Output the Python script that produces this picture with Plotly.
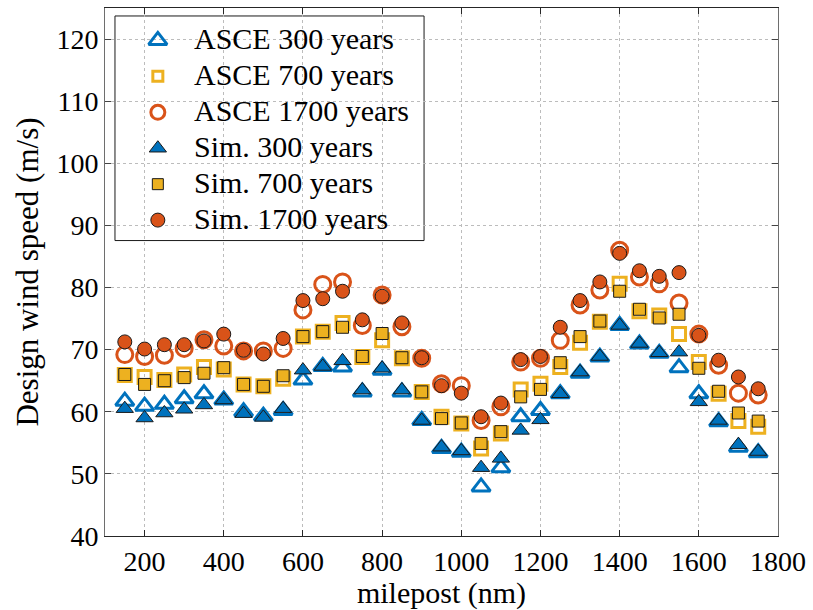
import plotly.graph_objects as go

# Milepost stations (nm)
milepost = [150, 200, 250, 300, 350, 400, 450, 500, 550, 600,
            650, 700, 750, 800, 850, 900, 950, 1000, 1050, 1100,
            1150, 1200, 1250, 1300, 1350, 1400, 1450, 1500, 1550, 1600,
            1650, 1700, 1750]

# ASCE design wind speeds (m/s)
asce_300 = [61.7, 60.9, 61.2, 62.1, 62.9, 61.9, 60.0, 59.3, 60.2, 65.1,
            67.3, 67.2, 63.2, 66.7, 63.2, 58.6, 54.1, 53.5, 47.9, 51.0,
            59.2, 60.2, 62.9, 66.2, 68.8, 73.9, 70.9, 69.4, 67.1, 62.9,
            58.4, 54.3, 53.4]
asce_700 = [65.9, 65.6, 65.1, 66.0, 67.2, 66.8, 64.4, 64.1, 65.3, 72.1,
            72.9, 74.3, 68.8, 71.5, 68.6, 63.2, 59.2, 58.1, 54.1, 56.5,
            63.6, 64.5, 67.2, 71.1, 74.5, 80.6, 76.2, 75.5, 72.5, 68.0,
            62.9, 58.5, 57.6]
asce_1700 = [69.2, 68.9, 69.1, 70.2, 71.6, 70.6, 69.8, 69.8, 70.2, 76.4,
             80.5, 80.9, 73.9, 78.8, 73.7, 68.6, 64.5, 64.2, 58.6, 60.8,
             68.0, 68.6, 71.5, 77.2, 79.6, 86.0, 81.7, 80.6, 77.5, 72.5,
             67.5, 63.0, 62.7]

# Simulated design wind speeds (m/s)
sim_300 = [60.5, 59.0, 59.8, 60.4, 61.1, 61.9, 59.7, 59.1, 60.5, 66.7,
           67.3, 68.2, 63.5, 67.0, 63.5, 58.6, 54.3, 53.7, 51.0, 52.5,
           57.0, 58.7, 62.9, 66.4, 68.9, 73.9, 71.0, 69.5, 69.6, 61.6,
           58.6, 54.7, 53.6]
sim_700 = [66.0, 64.4, 65.0, 65.5, 66.2, 67.1, 64.4, 64.1, 65.8, 72.1,
           72.9, 73.6, 68.9, 72.6, 68.7, 63.2, 58.9, 58.2, 54.9, 56.8,
           62.4, 63.6, 67.9, 72.1, 74.6, 79.4, 76.5, 75.1, 75.7, 67.0,
           63.3, 59.8, 58.5]
sim_1700 = [71.25, 70.1, 70.8, 70.8, 71.4, 72.5, 69.9, 69.3, 71.8, 77.9,
            78.2, 79.4, 74.8, 78.6, 74.3, 68.7, 64.2, 63.0, 59.2, 61.4,
            68.4, 68.9, 73.6, 77.9, 80.9, 85.5, 82.7, 81.8, 82.4, 72.3,
            68.3, 65.6, 63.7]

BLUE = "#0072BD"
YELLOW = "#EDB120"
ORANGE = "#D95319"
FONT = "Liberation Serif, Times New Roman, serif"

# Figure / axes geometry (pixels)
W, H = 813, 610
ML, MR, MT, MB = 105, 33, 7, 74
X_RANGE = [100, 1800]
Y_RANGE = [40, 125]
PLOT_W = W - ML - MR
PLOT_H = H - MT - MB


def px_x(px):
    """Horizontal pixel position -> x-axis value."""
    return X_RANGE[0] + (px - ML) * (X_RANGE[1] - X_RANGE[0]) / PLOT_W


def px_y(py):
    """Vertical pixel position (from top) -> y-axis value."""
    return Y_RANGE[0] + (H - MB - py) * (Y_RANGE[1] - Y_RANGE[0]) / PLOT_H


# (label, values, symbol, colour, plot size, legend size, open?)
series = [
    ("ASCE 300 years", asce_300, "triangle-up", BLUE, 16, 16, True),
    ("ASCE 700 years", asce_700, "square", YELLOW, 13, 10, True),
    ("ASCE 1700 years", asce_1700, "circle", ORANGE, 16, 14, True),
    ("Sim. 300 years", sim_300, "triangle-up", BLUE, 15, 15, False),
    ("Sim. 700 years", sim_700, "square", YELLOW, 12, 11, False),
    ("Sim. 1700 years", sim_1700, "circle", ORANGE, 14, 14, False),
]


def marker_style(sym, col, size, is_open):
    if is_open:
        return dict(symbol=sym, size=size, color="rgba(255,255,255,0)",
                    line=dict(color=col, width=3))
    return dict(symbol=sym, size=size, color=col,
                line=dict(color="#1a1a1a", width=1))


fig = go.Figure()

for name, vals, sym, col, size, _, is_open in series:
    fig.add_trace(go.Scatter(
        x=milepost, y=vals, mode="markers", name=name, showlegend=False,
        marker=marker_style(sym, col, size, is_open),
    ))

# Legend box in the upper-left corner
LEG_L, LEG_T, LEG_R, LEG_B = 115, 15, 425, 240
LEG_ROW0, LEG_ROW_STEP = 39.5, 36
LEG_SYM_X, LEG_TEXT_X = 158, 192
LEG_TEXT_DY = -2

fig.add_shape(type="rect", xref="x", yref="y", layer="below",
              x0=px_x(LEG_L), x1=px_x(LEG_R), y0=px_y(LEG_B), y1=px_y(LEG_T),
              line=dict(color="#1a1a1a", width=1), fillcolor="white")

for i, (name, _, sym, col, _, lsize, is_open) in enumerate(series):
    row_y = LEG_ROW0 + i * LEG_ROW_STEP
    fig.add_trace(go.Scatter(
        x=[px_x(LEG_SYM_X)], y=[px_y(row_y)], mode="markers",
        showlegend=False, hoverinfo="skip",
        marker=marker_style(sym, col, lsize, is_open),
    ))
    fig.add_annotation(
        x=px_x(LEG_TEXT_X), y=px_y(row_y + LEG_TEXT_DY), xref="x", yref="y",
        text=name, showarrow=False, xanchor="left", yanchor="middle",
        font=dict(family=FONT, size=30, color="black"),
    )

axis_common = dict(
    ticks="inside", ticklen=6, tickwidth=1,
    showgrid=True, gridcolor="#bcbcbc", griddash="dot", gridwidth=1,
    showline=True, linewidth=1, mirror="ticks",
    zeroline=False,
    tickfont=dict(family=FONT, size=28, color="black"),
)

fig.update_layout(
    width=W, height=H,
    margin=dict(l=ML, r=MR, t=MT, b=MB),
    paper_bgcolor="white", plot_bgcolor="white",
    font=dict(family=FONT, color="black"),
    showlegend=False,
    xaxis=dict(
        range=X_RANGE, tickvals=[200, 400, 600, 800, 1000, 1200, 1400, 1600, 1800],
        linecolor="#262626", tickcolor="#262626",
        title=dict(text="milepost (nm)", font=dict(family=FONT, size=30), standoff=4),
        **axis_common,
    ),
    yaxis=dict(
        range=Y_RANGE, tickvals=[40, 50, 60, 70, 80, 90, 100, 110, 120],
        linecolor="#6e6e6e", tickcolor="#444",
        title=dict(text="Design wind speed (m/s)", font=dict(family=FONT, size=31), standoff=8),
        **axis_common,
    ),
)

fig.write_html("out.html")
